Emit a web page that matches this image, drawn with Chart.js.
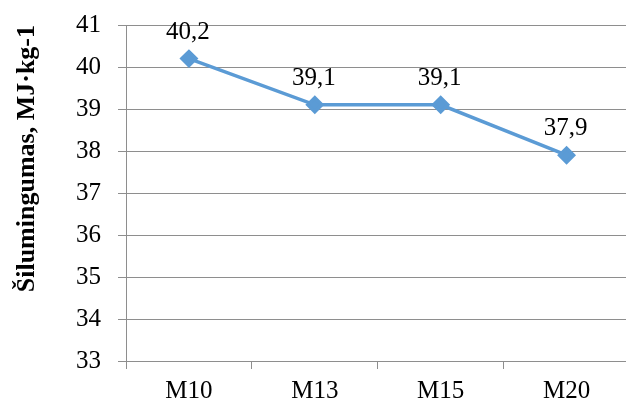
<!DOCTYPE html>
<html>
<head>
<meta charset="utf-8">
<script src="https://cdn.jsdelivr.net/npm/chart.js@4/dist/chart.umd.min.js"></script>
<style>
    html, body { margin: 0; padding: 0; background: #fff; overflow: hidden; }
    #wrap { width: 640px; height: 404px; }
</style>
</head>
<body>
<div id="wrap"><canvas id="silumingumasChart"></canvas></div>
<script>
const labels = ["M10", "M13", "M15", "M20"];
const values = [40.2, 39.1, 39.1, 37.9];
const yTicks = [33, 34, 35, 36, 37, 38, 39, 40, 41];
const yTitle = "Šilumingumas, MJ·kg-1";

const serif = "'Liberation Serif', 'Times New Roman', serif";
const gridColor = "#8e8e8e";

// Reikšmės virš taškų
const valueLabels = {
    id: "valueLabels",
    afterDatasetsDraw(chart) {
        const ctx = chart.ctx;
        const meta = chart.getDatasetMeta(0);
        ctx.save();
        ctx.font = "25px " + serif;
        ctx.fillStyle = "#000";
        ctx.textAlign = "center";
        ctx.textBaseline = "alphabetic";
        meta.data.forEach((pt, i) => {
            const txt = String(values[i]).replace(".", ",");
            ctx.fillText(txt, pt.x - 1, pt.y - 20);
        });
        ctx.restore();
    }
};

const ctx = document.getElementById("silumingumasChart").getContext("2d");
const chart = new Chart(ctx, {
    type: "line",
    data: {
        labels: labels,
        datasets: [{
            data: values,
            borderColor: "#5b9bd5",
            backgroundColor: "#5b9bd5",
            borderWidth: 3.5,
            pointStyle: "rectRot",
            pointRadius: 7,
            pointHoverRadius: 7,
            tension: 0
        }]
    },
    options: {
        responsive: true,
        maintainAspectRatio: false,
        animation: false,
        layout: { padding: { left: 0, right: 4, top: 25, bottom: 0 } },
        plugins: {
            legend: { display: false },
            tooltip: { enabled: false }
        },
        scales: {
            x: {
                offset: true,
                grid: {
                    offset: true,
                    drawOnChartArea: false,
                    color: gridColor,
                    tickLength: 8
                },
                border: { color: gridColor },
                ticks: {
                    color: "#000",
                    font: { family: serif, size: 25 },
                    padding: 7,
                    maxRotation: 0
                },
                afterFit(scale) {
                    scale.height = 43;
                    scale.paddingLeft = 0;
                    scale.paddingRight = 0;
                }
            },
            y: {
                min: yTicks[0],
                max: yTicks[yTicks.length - 1],
                afterBuildTicks(scale) {
                    scale.ticks = yTicks.map(v => ({ value: v }));
                },
                grid: {
                    color: gridColor,
                    tickLength: 8
                },
                border: { color: gridColor },
                ticks: {
                    color: "#000",
                    font: { family: serif, size: 25 },
                    padding: 17
                },
                title: {
                    display: true,
                    text: yTitle,
                    align: "end",
                    color: "#000",
                    font: { family: serif, size: 26, weight: "bold" },
                    padding: { top: 12, bottom: 0 }
                },
                afterFit(scale) {
                    scale.width = 126;
                    scale.paddingTop = 0;
                    scale.paddingBottom = 0;
                }
            }
        }
    },
    plugins: [valueLabels]
});
</script>
</body>
</html>
